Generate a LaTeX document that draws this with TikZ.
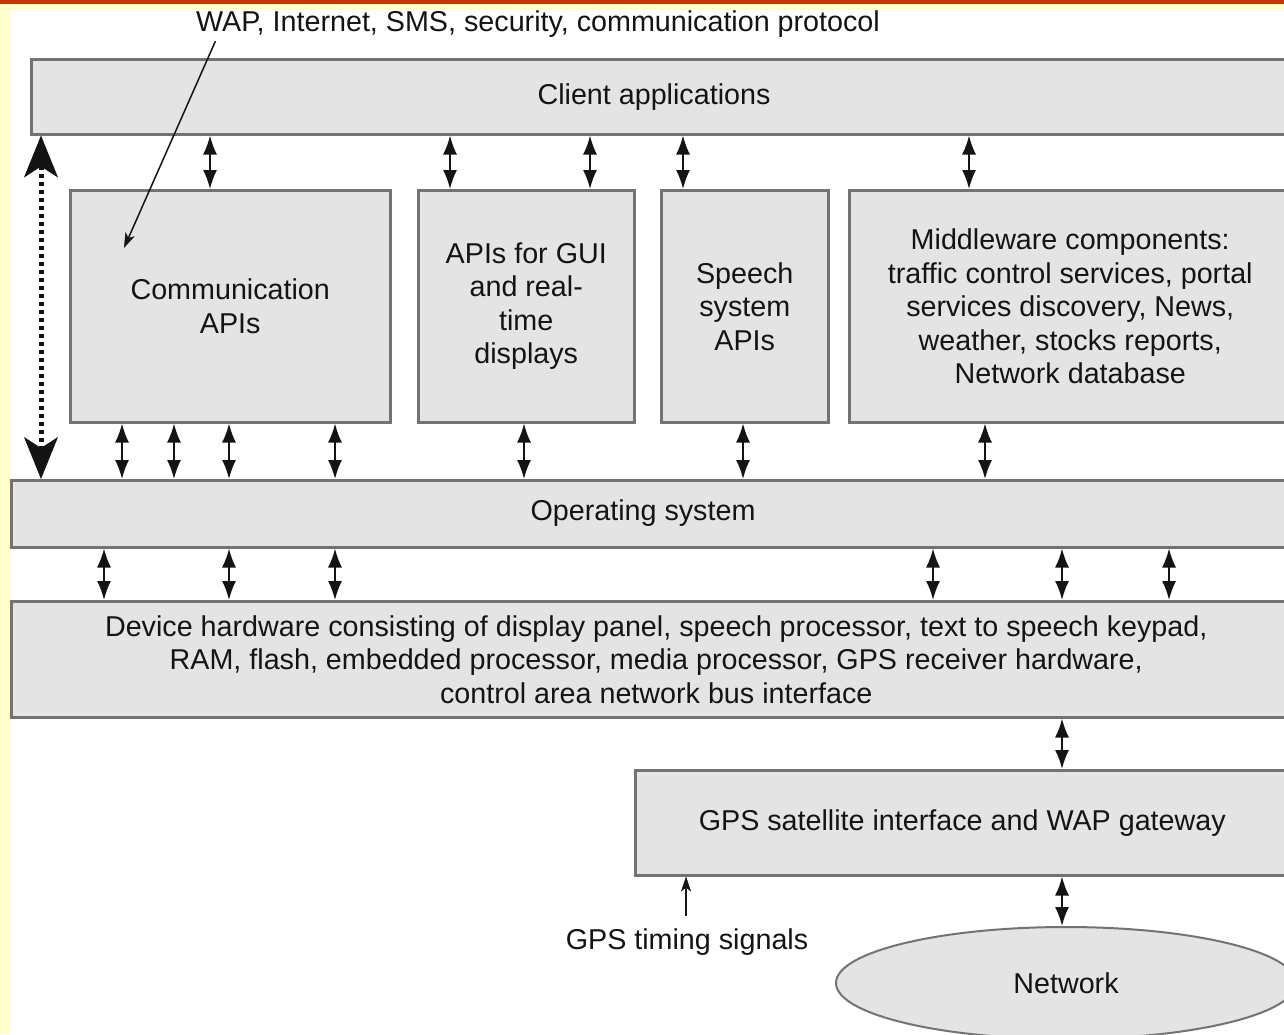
\documentclass[tikz,border=0pt]{standalone}
\usepackage{fontspec}
\setmainfont{Liberation Sans}
\usetikzlibrary{arrows.meta,shapes.geometric}
\definecolor{boxfill}{HTML}{E4E4E4}
\definecolor{boxline}{HTML}{737373}
\definecolor{ink}{HTML}{141414}
\definecolor{topbar}{HTML}{CC3300}
\definecolor{sidebar}{HTML}{FFFFCC}
\begin{document}
\begin{tikzpicture}[x=1pt,y=-1pt,
  box/.style={draw=boxline, fill=boxfill, line width=2.5pt, inner sep=0pt, anchor=north west,
              text=ink, align=center, font=\fontsize{28.7}{33.5}\selectfont},
  lbl/.style={text=ink, align=center, inner sep=0pt, font=\fontsize{28.7}{33.5}\selectfont},
  link/.style={draw=ink, line width=1.8pt, {Latex[length=19pt,width=14pt]}-{Latex[length=19pt,width=14pt]}},
  bigarrow/.style={draw=ink, line width=5pt, dash pattern=on 4pt off 4pt,
     {Stealth[length=42pt,width=34pt,inset=11pt,line width=1pt]}-{Stealth[length=42pt,width=34pt,inset=11pt,line width=1pt]}},
  thinarrow/.style={draw=ink, line width=1.5pt, -{Stealth[length=15pt,width=10pt,inset=4pt,line width=0.5pt]}},
]
\useasboundingbox (0,0) rectangle (1284,1034);
\clip (0,0) rectangle (1284,1034);
\fill[white] (0,0) rectangle (1284,1034);
\fill[sidebar] (0,0) rectangle (1284,10);
\fill[sidebar] (0,0) rectangle (10,1034);
\fill[topbar] (0,0) rectangle (1284,4);

% boxes
\node[box, minimum width=1275pt, minimum height=75pt] (client) at (30,58) {};
\node[lbl] (clientT) at (654,97) {Client applications};

\node[box, minimum width=320pt, minimum height=232pt] (comm) at (69,189) {Communication\\APIs};
\node[box, minimum width=216pt, minimum height=232pt] (gui) at (417,189) {APIs for GUI\\and real-\\time\\displays};
\node[box, minimum width=167pt, minimum height=232pt] (speech) at (660,189) {Speech\\system\\APIs};
\node[box, minimum width=442pt, minimum height=232pt] (mw) at (848,189)
  {Middleware components:\\traffic control services, portal\\services discovery, News,\\weather, stocks reports,\\Network database};

\node[box, minimum width=1295pt, minimum height=67pt] (os) at (10,479) {};
\node[lbl] (osT) at (643,513) {Operating system};

\node[box, minimum width=1290pt, minimum height=116pt] (hw) at (10,600)
  {Device hardware consisting of display panel, speech processor, text to speech keypad,\\RAM, flash, embedded processor, media processor, GPS receiver hardware,\\control area network bus interface};

\node[box, minimum width=654pt, minimum height=105pt] (gps) at (634,769) {GPS satellite interface and WAP gateway};

\node[ellipse, draw=boxline, fill=boxfill, line width=2pt, inner sep=0pt, minimum width=460pt, minimum height=112pt,
      text=ink, font=\fontsize{28.7}{33.5}\selectfont] (net) at (1066,983) {Network};

% labels
\node[lbl] (wap) at (538,24) {WAP, Internet, SMS, security, communication protocol};
\node[lbl] (gpst) at (687,942) {GPS timing signals};
\coordinate (wapend) at (124,248);

% connectors
\foreach \x in {210} \draw[link] (client.south -| \x,0) -- (comm.north -| \x,0);
\foreach \x in {450,590} \draw[link] (client.south -| \x,0) -- (gui.north -| \x,0);
\foreach \x in {683} \draw[link] (client.south -| \x,0) -- (speech.north -| \x,0);
\foreach \x in {969} \draw[link] (client.south -| \x,0) -- (mw.north -| \x,0);

\foreach \x in {122,174,229,335} \draw[link] (comm.south -| \x,0) -- (os.north -| \x,0);
\foreach \x in {524} \draw[link] (gui.south -| \x,0) -- (os.north -| \x,0);
\foreach \x in {743} \draw[link] (speech.south -| \x,0) -- (os.north -| \x,0);
\foreach \x in {985} \draw[link] (mw.south -| \x,0) -- (os.north -| \x,0);

\foreach \x in {104,229,335,933,1062,1169} \draw[link] (os.south -| \x,0) -- (hw.north -| \x,0);

\draw[link] (hw.south -| 1062,0) -- (gps.north -| 1062,0);
\draw[link] (gps.south -| 1062,0) -- (net.north -| 1062,0);

\draw[bigarrow] (client.south -| 41,0) -- (os.north -| 41,0);

\draw[thinarrow, shorten <=4pt] (wap.south -| 217,0) -- (wapend);
\draw[thinarrow, shorten <=12pt] (gpst.north -| 686,0) -- (gps.south -| 686,0);
\end{tikzpicture}
\end{document}
